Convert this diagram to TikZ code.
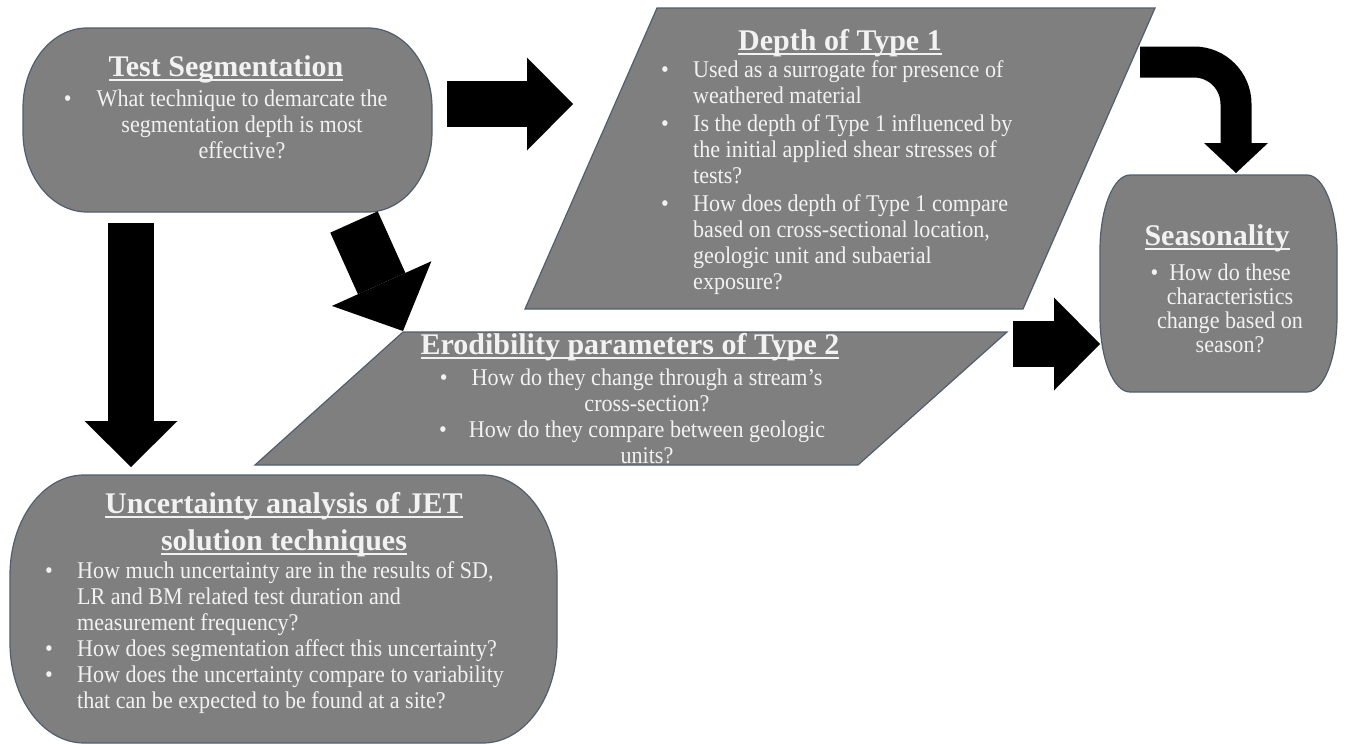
\documentclass[tikz,border=0pt]{standalone}
\usepackage{fontspec}
\setmainfont{Liberation Serif}
\newfontfamily\qfont[FakeStretch=0.92, Ligatures=TeX]{Liberation Serif}
\usepackage{tikz}
\usetikzlibrary{arrows.meta}

\definecolor{boxgray}{RGB}{127,127,127}
\definecolor{boxline}{RGB}{82,94,110}
\definecolor{qtext}{RGB}{242,242,242}

% bullet and hanging indent for the question lists
\newcommand\qbul{\makebox[32pt][l]{\textbullet}}
\newcommand\qind{\hspace*{32pt}}
% underlined heading
\newsavebox\hdlbox
\newcommand\hdl[1]{\sbox\hdlbox{#1}\rlap{\rule[-5pt]{\wd\hdlbox}{2pt}}\usebox\hdlbox}
% box with elliptic corners: x1,y1,x2,y2,rx,ry
\newcommand\capsule[6]{%
  \draw[box] (#1+#5,#2) -- (#3-#5,#2)
    arc[start angle=-90, end angle=0, x radius=#5, y radius=#6] -- (#3,#4-#6)
    arc[start angle=0, end angle=90, x radius=#5, y radius=#6] -- (#1+#5,#4)
    arc[start angle=90, end angle=180, x radius=#5, y radius=#6] -- (#1,#2+#6)
    arc[start angle=180, end angle=270, x radius=#5, y radius=#6] -- cycle;}

\begin{document}
\begin{tikzpicture}[x=1pt, y=-1pt,
  box/.style={fill=boxgray, draw=boxline, line width=1.2pt},
  ttl/.style={font=\fontsize{30}{37}\selectfont\bfseries, text=qtext, inner sep=0pt},
  bdy/.style={font=\qfont\fontsize{24}{26}\selectfont, text=qtext, inner sep=0pt},
  blk/.style={draw=black, line width=46pt, -{Triangle[length=46pt, width=93pt, line width=0pt]}}
]
\useasboundingbox (0,0) rectangle (1347,744);
% Shapes
\capsule{23}{28}{432}{212}{64}{80}
\draw[box] (657,8) -- (1155,8) -- (1023,309) -- (525,309) -- cycle;
\capsule{1100}{175}{1337}{392}{30}{75}
\draw[box] (403,332) -- (1007,332) -- (858,465) -- (255,465) -- cycle;
\capsule{10}{475}{557}{743}{74}{100}
% Arrow ends
\coordinate (segE)  at (447,104);
\coordinate (depW)  at (573,104);
\coordinate (segS)  at (131,223);
\coordinate (uncN)  at (131,467);
\coordinate (segSE) at (354,222);
\coordinate (eroNW) at (403,331);
\coordinate (eroE)  at (1013,344);
\coordinate (seaW)  at (1100,344);
\coordinate (depNE) at (1140,62);
\coordinate (seaN)  at (1236,173);
% Arrows
\draw[blk] (segE) -- (depW);
\draw[blk] (segS) -- (uncN);
\draw[blk, line width=52pt, -{Triangle[length=52pt, width=109pt, line width=0pt]}] (segSE) -- (eroNW);
\draw[blk] (eroE) -- (seaW);
\draw[blk, line width=31pt, rounded corners=42pt, -{Triangle[length=30pt, width=64pt, line width=0pt]}] (depNE) -| (seaN);
% Test Segmentation (multi-line nodes sit on their last baseline)
\node[ttl, anchor=base] (segT) at (226,76) {\hdl{Test Segmentation}};
\node[bdy, align=center, anchor=base] (segQ) at (242,158)
  {\llap{\textbullet\hspace{25pt}}What technique to demarcate the\\
   segmentation depth is most\\ effective?};
% Depth of Type 1
\node[ttl, anchor=base] (depT) at (840,50) {\hdl{Depth of Type 1}};
\node[bdy, align=left, anchor=base west] (depQ) at (661,289)
  {\qbul Used as a surrogate for presence of\\
   \qind weathered material\\[2pt]
   \qbul Is the depth of Type 1 influenced by\\
   \qind the initial applied shear stresses of\\
   \qind tests?\\[2pt]
   \qbul How does depth of Type 1 compare\\
   \qind based on cross-sectional location,\\
   \qind geologic unit and subaerial\\
   \qind exposure?};
% Seasonality
\node[ttl, anchor=base] (seaT) at (1217,245) {\hdl{Seasonality}};
\node[bdy, font=\qfont\fontsize{24}{24}\selectfont, align=center, anchor=base] (seaQ) at (1230,352)
  {\llap{\textbullet\hspace{11pt}}How do these\\ characteristics\\
   change based on\\ season?};
% Erodibility parameters of Type 2
\node[ttl, anchor=base] (eroT) at (630,354) {\hdl{Erodibility parameters of Type 2}};
\node[bdy, align=center, anchor=base] (eroQ) at (647,463)
  {\llap{\textbullet\hspace{24pt}}How do they change through a stream's\\
   cross-section?\\
   \llap{\textbullet\hspace{22pt}}How do they compare between geologic\\
   units?};
% Uncertainty analysis of JET solution techniques
\node[ttl, align=center, anchor=base] (uncT) at (284,550)
  {\hdl{Uncertainty analysis of JET}\\ \hdl{solution techniques}};
\node[bdy, align=left, anchor=base west] (uncQ) at (45,708)
  {\qbul How much uncertainty are in the results of SD,\\
   \qind LR and BM related test duration and\\
   \qind measurement frequency?\\
   \qbul How does segmentation affect this uncertainty?\\
   \qbul How does the uncertainty compare to variability\\
   \qind that can be expected to be found at a site?};
\end{tikzpicture}
\end{document}
